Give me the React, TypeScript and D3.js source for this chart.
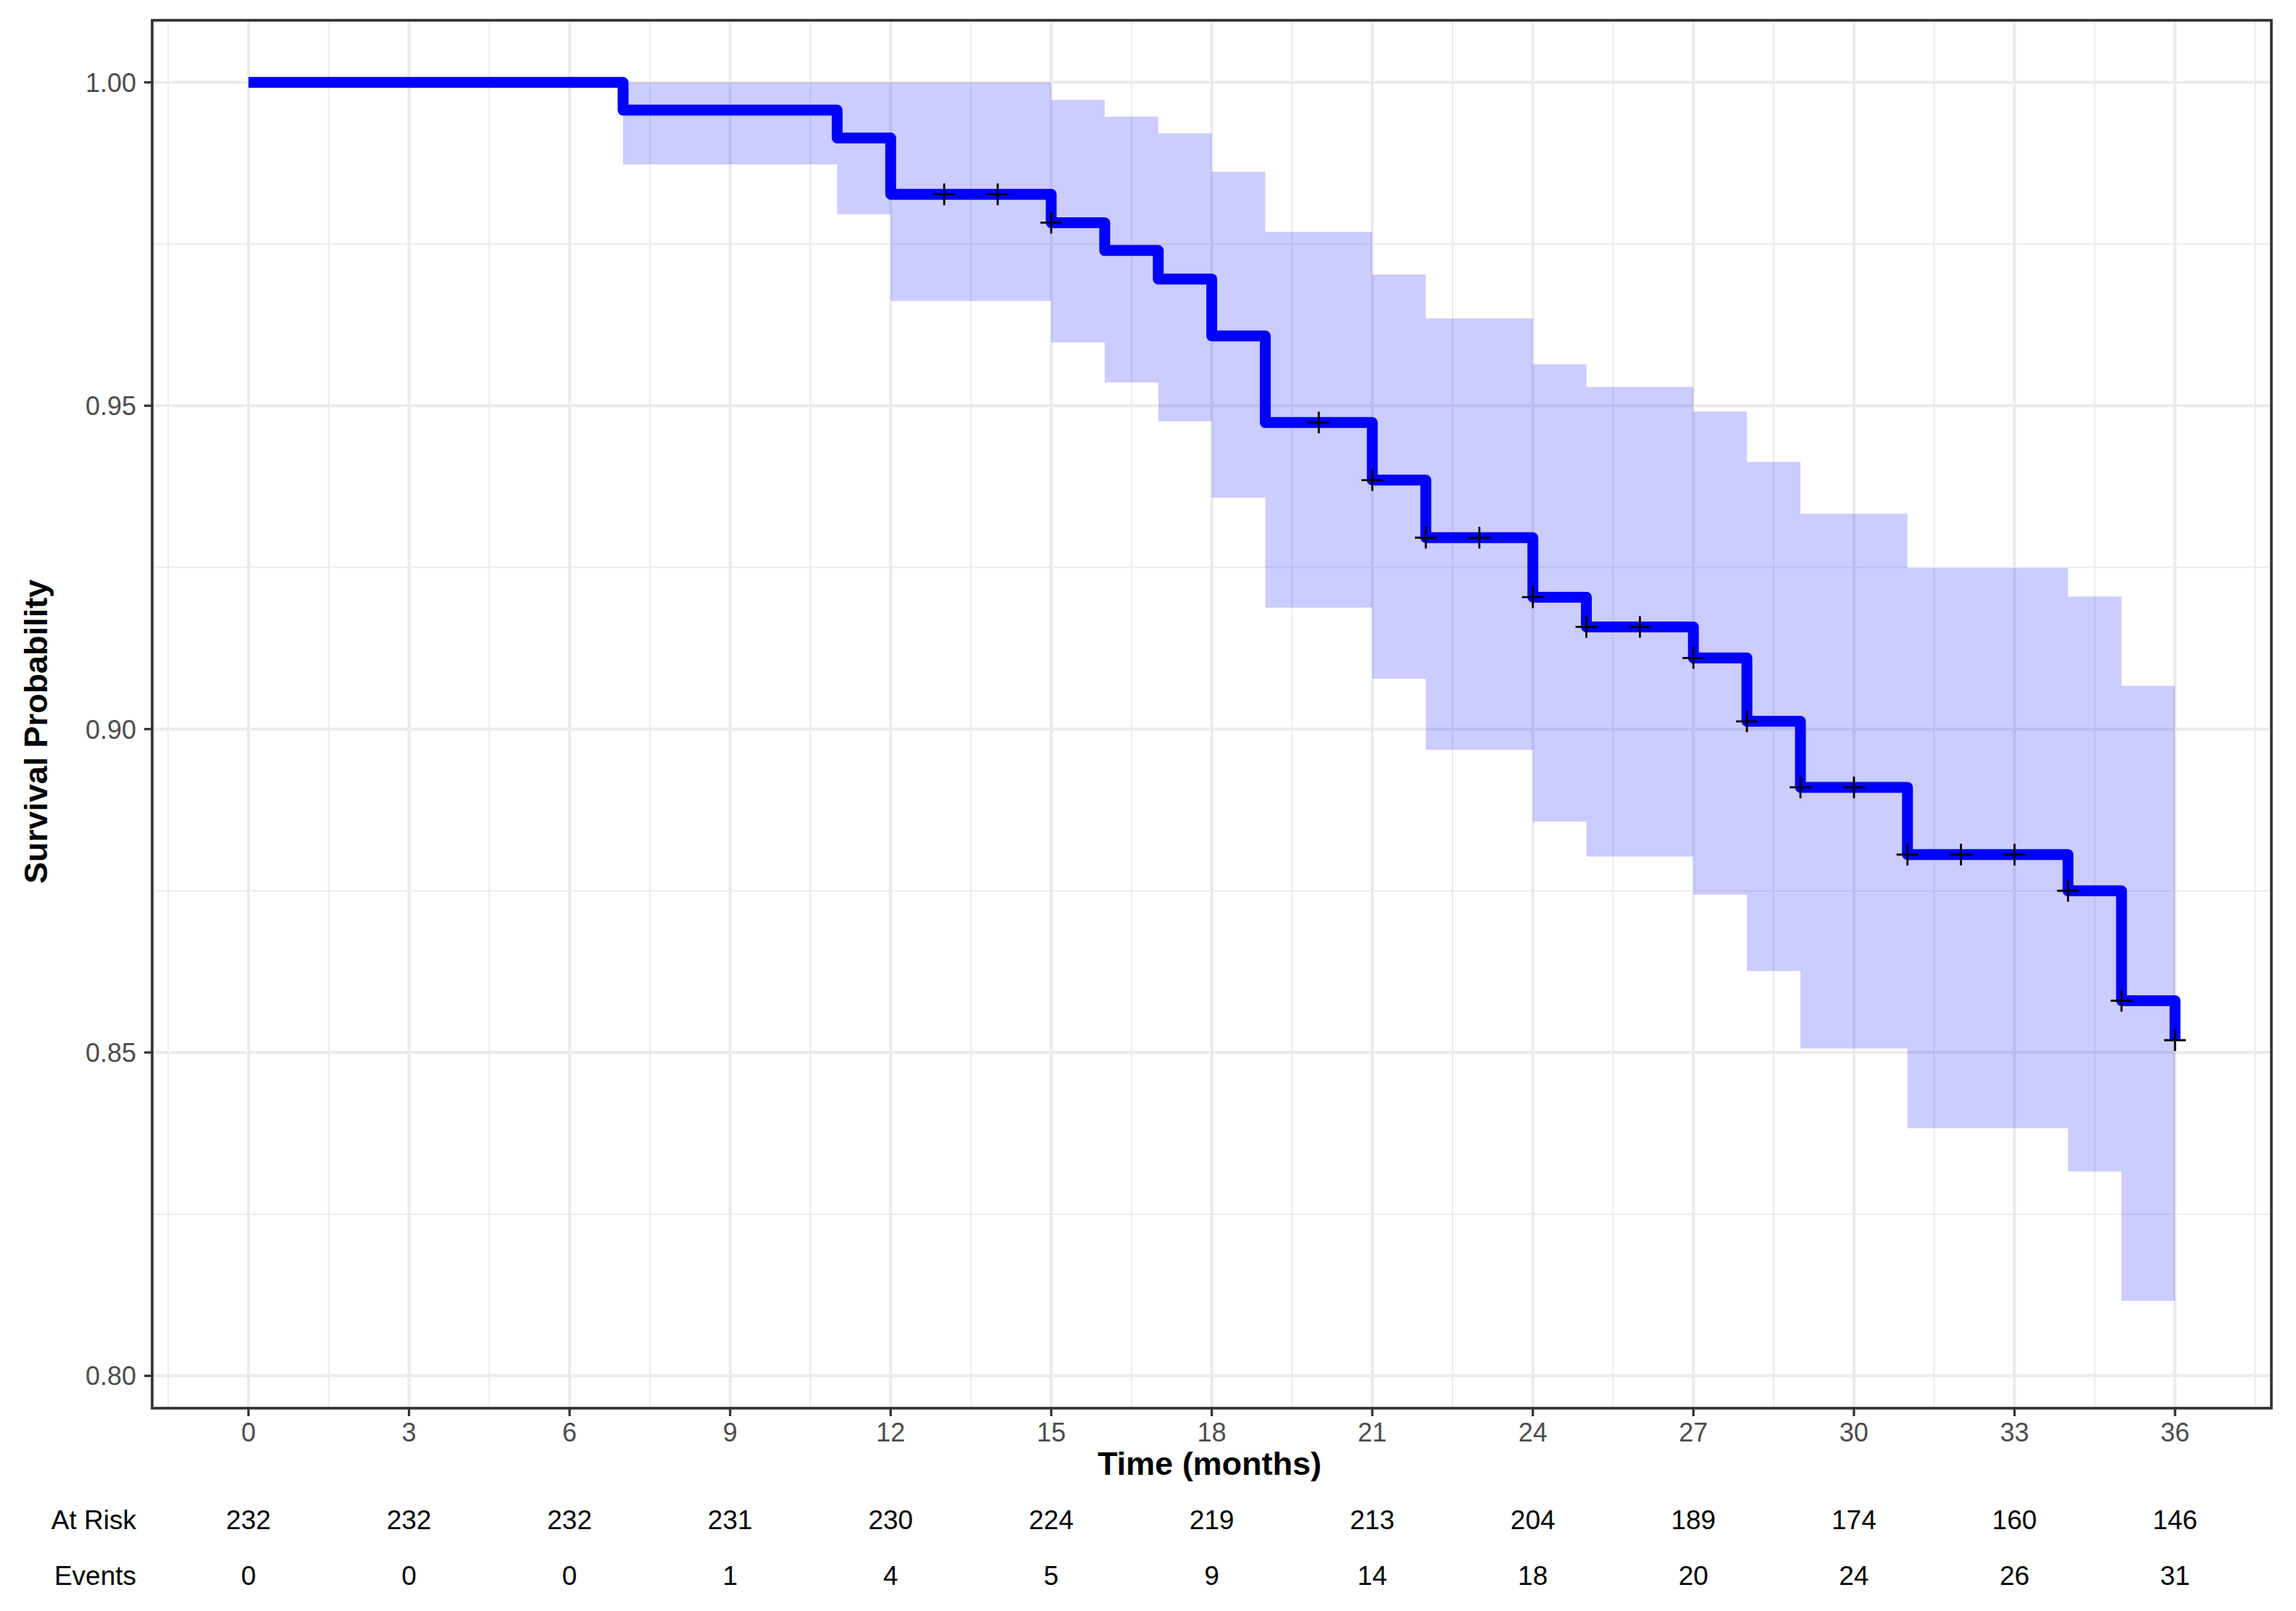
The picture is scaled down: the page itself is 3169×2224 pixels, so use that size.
import { useEffect, useRef } from 'react';
import * as d3 from 'd3';

// Kaplan-Meier steps (time in months where the estimate changes)
const stepTimes = [0, 7, 11, 12, 15, 16, 17, 18, 19, 21, 22, 24, 25, 27, 28, 29, 31, 34, 35, 36];
const survival = [1, 0.9957, 0.9914, 0.9827, 0.9783, 0.974, 0.9696, 0.9608, 0.9474, 0.9385, 0.9296, 0.9204, 0.9158, 0.911, 0.9012, 0.891, 0.8806, 0.875, 0.858, 0.8519];
// confidence band for each interval [stepTimes[i], stepTimes[i+1])
const upperCI = [1, 1, 1, 1, 0.9973, 0.9947, 0.9921, 0.9862, 0.9769, 0.9703, 0.9635, 0.9564, 0.9529, 0.9491, 0.9413, 0.9333, 0.9249, 0.9205, 0.9067];
const lowerCI = [1, 0.9873, 0.9796, 0.9662, 0.9598, 0.9536, 0.9476, 0.9358, 0.9188, 0.9078, 0.8968, 0.8857, 0.8803, 0.8744, 0.8626, 0.8506, 0.8383, 0.8316, 0.8116];
const censorTimes = [13, 14, 15, 20, 21, 22, 23, 24, 25, 26, 27, 28, 29, 30, 31, 32, 33, 34, 35, 36];

// risk table
const tableTimes = [0, 3, 6, 9, 12, 15, 18, 21, 24, 27, 30, 33, 36];
const atRisk = [232, 232, 232, 231, 230, 224, 219, 213, 204, 189, 174, 160, 146];
const events = [0, 0, 0, 1, 4, 5, 9, 14, 18, 20, 24, 26, 31];

const yTicks = [0.8, 0.85, 0.9, 0.95, 1.0];
const yMinor = [0.825, 0.875, 0.925, 0.975];

const W = 3169;
const H = 2224;
const FONT = "'Liberation Sans', Arial, sans-serif";

export default function App() {
  const svgRef = useRef<SVGSVGElement>(null);

  useEffect(() => {
    if (!svgRef.current) return;
    const svg = d3.select(svgRef.current);
    svg.selectAll('*').remove();

    const left = 210, right = 3135, top = 28, bottom = 1944;

    const x = d3.scaleLinear().domain([-1.8, 37.8]).range([left, right]);
    const y = d3.scaleLinear().domain([0.795, 1.0096]).range([bottom, top]);

    svg.append('rect').attr('width', W).attr('height', H).attr('fill', '#fff');

    const panel = svg.append('g');

    // grid
    const xMinor = d3.range(-1.5, 38, 3);
    panel.selectAll('.xminor').data(xMinor).enter().append('line')
      .attr('x1', d => x(d)).attr('x2', d => x(d)).attr('y1', top).attr('y2', bottom)
      .attr('stroke', '#EBEBEB').attr('stroke-width', 2);
    panel.selectAll('.yminor').data(yMinor).enter().append('line')
      .attr('x1', left).attr('x2', right).attr('y1', d => y(d)).attr('y2', d => y(d))
      .attr('stroke', '#EBEBEB').attr('stroke-width', 2);
    panel.selectAll('.xmajor').data(tableTimes).enter().append('line')
      .attr('x1', d => x(d)).attr('x2', d => x(d)).attr('y1', top).attr('y2', bottom)
      .attr('stroke', '#EBEBEB').attr('stroke-width', 4);
    panel.selectAll('.ymajor').data(yTicks).enter().append('line')
      .attr('x1', left).attr('x2', right).attr('y1', d => y(d)).attr('y2', d => y(d))
      .attr('stroke', '#EBEBEB').attr('stroke-width', 4);

    // confidence ribbon
    const band = upperCI.map((u, i) => ({ t: stepTimes[i], lo: lowerCI[i], hi: u }));
    const last = band[band.length - 1];
    band.push({ t: stepTimes[stepTimes.length - 1], lo: last.lo, hi: last.hi });

    const area = d3.area<{ t: number; lo: number; hi: number }>()
      .x(d => x(d.t))
      .y0(d => y(d.lo))
      .y1(d => y(d.hi))
      .curve(d3.curveStepAfter);

    panel.append('path')
      .attr('d', area(band))
      .attr('fill', '#0000FF')
      .attr('fill-opacity', 0.2);

    // survival curve
    const line = d3.line<number>()
      .x((_, i) => x(stepTimes[i]))
      .y(d => y(d))
      .curve(d3.curveStepAfter);

    panel.append('path')
      .attr('d', line(survival))
      .attr('fill', 'none')
      .attr('stroke', '#0000FF')
      .attr('stroke-width', 15)
      .attr('stroke-linejoin', 'round')
      .attr('stroke-linecap', 'butt');

    // censor marks
    const survAt = (t: number) => survival[d3.bisectRight(stepTimes, t) - 1];
    const s = 15;
    censorTimes.forEach(t => {
      const cx = x(t), cy = y(survAt(t));
      panel.append('path')
        .attr('d', `M${cx - s},${cy}H${cx + s}M${cx},${cy - s}V${cy + s}`)
        .attr('stroke', '#000')
        .attr('stroke-width', 2.8)
        .attr('fill', 'none');
    });

    // panel border
    svg.append('rect')
      .attr('x', left).attr('y', top)
      .attr('width', right - left).attr('height', bottom - top)
      .attr('fill', 'none').attr('stroke', '#333333').attr('stroke-width', 3.7);

    // y axis
    yTicks.forEach(v => {
      svg.append('line')
        .attr('x1', left - 11).attr('x2', left).attr('y1', y(v)).attr('y2', y(v))
        .attr('stroke', '#333333').attr('stroke-width', 3.3);
      svg.append('text')
        .attr('x', 188).attr('y', y(v) + 13)
        .attr('text-anchor', 'end')
        .attr('font-family', FONT).attr('font-size', 36)
        .attr('fill', '#4D4D4D')
        .text(d3.format('.2f')(v));
    });

    // x axis
    tableTimes.forEach(t => {
      svg.append('line')
        .attr('x1', x(t)).attr('x2', x(t)).attr('y1', bottom).attr('y2', bottom + 11)
        .attr('stroke', '#333333').attr('stroke-width', 3.3);
      svg.append('text')
        .attr('x', x(t)).attr('y', 1990)
        .attr('text-anchor', 'middle')
        .attr('font-family', FONT).attr('font-size', 36)
        .attr('fill', '#4D4D4D')
        .text(t);
    });

    // axis titles
    svg.append('text')
      .attr('x', (left + right) / 2 - 3).attr('y', 2036)
      .attr('text-anchor', 'middle')
      .attr('font-family', FONT).attr('font-size', 45).attr('font-weight', 'bold')
      .attr('fill', '#000')
      .text('Time (months)');

    svg.append('text')
      .attr('transform', `translate(65, 1010) rotate(-90)`)
      .attr('text-anchor', 'middle')
      .attr('font-family', FONT).attr('font-size', 45).attr('font-weight', 'bold')
      .attr('fill', '#000')
      .text('Survival Probability');

    // risk table
    const rows = [
      { label: 'At Risk', values: atRisk, yPos: 2111 },
      { label: 'Events', values: events, yPos: 2188 },
    ];
    rows.forEach(row => {
      svg.append('text')
        .attr('x', 188).attr('y', row.yPos)
        .attr('text-anchor', 'end')
        .attr('font-family', FONT).attr('font-size', 37)
        .attr('fill', '#000')
        .text(row.label);
      row.values.forEach((v, i) => {
        svg.append('text')
          .attr('x', x(tableTimes[i])).attr('y', row.yPos)
          .attr('text-anchor', 'middle')
          .attr('font-family', FONT).attr('font-size', 37)
          .attr('fill', '#000')
          .text(v);
      });
    });
  }, []);

  return (
    <svg
      ref={svgRef}
      width={W}
      height={H}
      style={{ position: 'absolute', left: 0, top: 0, display: 'block' }}
    />
  );
}
